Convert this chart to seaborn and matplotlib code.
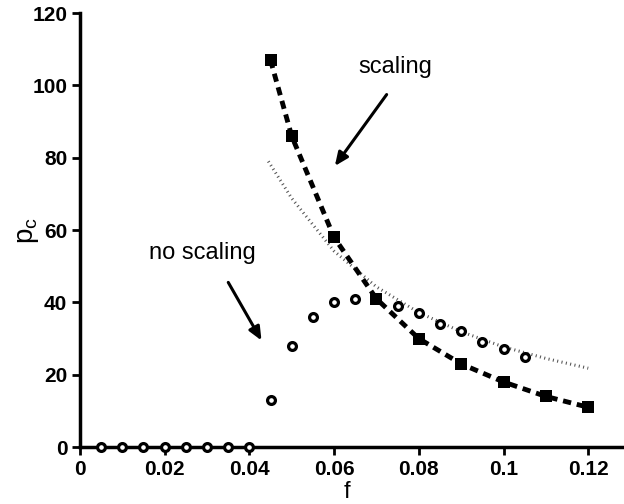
import matplotlib
matplotlib.use("Agg")
import matplotlib.pyplot as plt
import seaborn as sns
import pandas as pd

# Data
f_sq = [0.045, 0.05, 0.06, 0.07, 0.08, 0.09, 0.10, 0.11, 0.12]
pc_sq = [107, 86, 58, 41, 30, 23, 18, 14, 11]

f_circ = [0.005, 0.01, 0.015, 0.02, 0.025, 0.03, 0.035, 0.04, 0.045, 0.05,
          0.055, 0.06, 0.065, 0.075, 0.08, 0.085, 0.09, 0.095, 0.10, 0.105]
pc_circ = [0, 0, 0, 0, 0, 0, 0, 0, 13, 28, 36, 40, 41, 39, 37, 34, 32, 29, 27, 25]

f_dot = [0.0445, 0.05, 0.06, 0.07, 0.08, 0.09, 0.10, 0.11, 0.12]
pc_dot = [79, 68.8, 54.2, 44.3, 37.2, 31.9, 27.7, 24.5, 21.8]

xticks = [0, 0.02, 0.04, 0.06, 0.08, 0.1, 0.12]
xticklabels = ["0", "0.02", "0.04", "0.06", "0.08", "0.1", "0.12"]
yticks = [0, 20, 40, 60, 80, 100, 120]

sns.set_style("ticks")
plt.rcParams['font.family'] = ['Liberation Sans', 'DejaVu Sans']
plt.rcParams['text.color'] = 'black'
plt.rcParams['axes.labelcolor'] = 'black'

fig = plt.figure(figsize=(6.24, 5.04), dpi=100)
ax = fig.add_axes([0.128, 0.113, 0.869, 0.861])

df_sq = pd.DataFrame({"f": f_sq, "pc": pc_sq})
df_c = pd.DataFrame({"f": f_circ, "pc": pc_circ})
df_d = pd.DataFrame({"f": f_dot, "pc": pc_dot})

sns.lineplot(data=df_d, x="f", y="pc", ax=ax, color="#555555", lw=2.2,
             linestyle=(0, (0.35, 1.1)), sort=False)
sns.lineplot(data=df_sq, x="f", y="pc", ax=ax, color="black", lw=3.5,
             linestyle=(0, (1.7, 1.2)), sort=False)
sns.scatterplot(data=df_sq, x="f", y="pc", ax=ax, marker="s", s=78,
                color="black", edgecolor="black", linewidth=0, zorder=5)
sns.scatterplot(data=df_c, x="f", y="pc", ax=ax, marker="o", s=32,
                facecolor="white", edgecolor="black", linewidth=2.3,
                zorder=6, clip_on=False)

ax.set_xlim(0, 0.128)
ax.set_ylim(0, 120)
ax.set_xticks(xticks)
ax.set_xticklabels(xticklabels)
ax.set_yticks(yticks)
for lab in ax.get_xticklabels() + ax.get_yticklabels():
    lab.set_fontweight("bold")
    lab.set_fontsize(15)
    lab.set_color("black")
ax.tick_params(axis="both", length=6, width=2, direction="out", pad=3, colors="black")
for s in ["left", "bottom"]:
    ax.spines[s].set_linewidth(2.5)
    ax.spines[s].set_color("black")
sns.despine(ax=ax)

ax.set_xlabel("f", fontsize=17)
ax.xaxis.set_label_coords(0.493, -0.078)
ax.set_ylabel(r"p$_\mathregular{c}$", fontsize=20)
ax.yaxis.set_label_coords(-0.072, 0.5)

arrow = dict(arrowstyle="-|>,head_length=0.8,head_width=0.35", color="black", lw=2.2)
ax.annotate("", xy=(0.0598, 77.1), xytext=(0.0728, 98.1), arrowprops=arrow)
ax.text(0.0744, 105.0, "scaling", fontsize=17, ha="center", va="center")
ax.annotate("", xy=(0.0432, 28.8), xytext=(0.0347, 46.2), arrowprops=arrow)
ax.text(0.0288, 53.6, "no scaling", fontsize=17, ha="center", va="center")

fig.savefig("out.png", dpi=100)
